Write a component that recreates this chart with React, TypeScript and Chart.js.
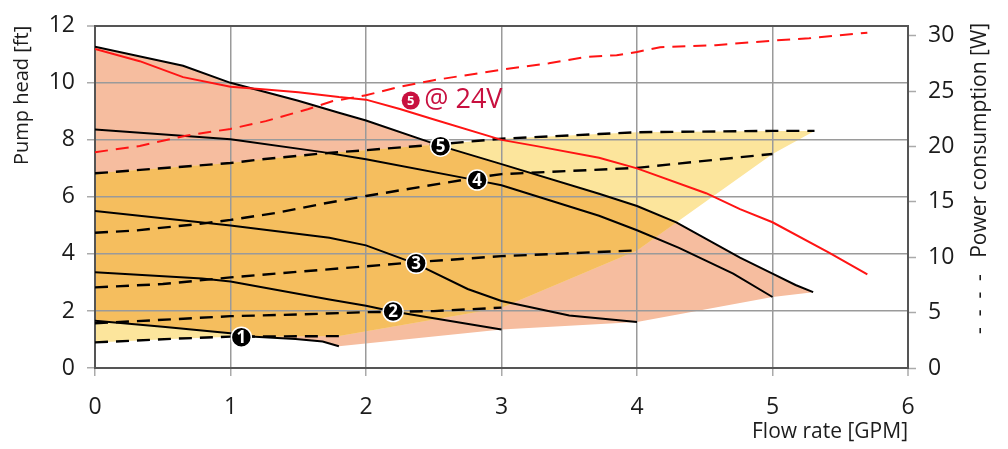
import React, { useEffect, useRef } from "react";
import { Chart, registerables } from "chart.js";

Chart.register(...registerables);

const FONT = "'Open Sans', 'Noto Sans', sans-serif";
const INK = "#1c1c1c";
const RED = "#ff1414";
const CRIMSON = "#c8103f";
const SALMON = "#f6bd9f";
const YELLOW = "#fce59c";
const ORANGE = "#f5be5e";

// Axis setup
const flowMax = 6;
const headMax = 12;
const powerMax = 30.9;

// Pump head curves [ft] per speed setting
const head1Flow = [0, 0.5, 1.0, 1.08, 1.48, 1.68, 1.8];
const head1Ft = [1.66, 1.45, 1.22, 1.12, 1.02, 0.93, 0.76];
const head2Flow = [0, 0.79, 1.0, 1.73, 2.0, 2.2, 3.0];
const head2Ft = [3.36, 3.14, 3.03, 2.4, 2.18, 1.98, 1.35];
const head3Flow = [0, 1.0, 1.73, 2.0, 2.37, 2.75, 3.0, 3.5, 4.0];
const head3Ft = [5.51, 5.0, 4.57, 4.3, 3.65, 2.77, 2.35, 1.84, 1.61];
const head4Flow = [0, 1.0, 1.68, 2.0, 2.82, 3.0, 3.72, 4.0, 4.31, 4.71, 5.0];
const head4Ft = [8.36, 8.02, 7.57, 7.32, 6.58, 6.41, 5.34, 4.83, 4.21, 3.31, 2.49];
const head5Flow = [0, 0.65, 1.0, 1.5, 1.8, 2.0, 2.55, 3.0, 3.72, 4.0, 4.29, 4.76, 5.0, 5.17, 5.3];
const head5Ft = [11.27, 10.6, 10.0, 9.37, 8.95, 8.68, 7.79, 7.15, 6.11, 5.68, 5.11, 3.87, 3.31, 2.91, 2.66];

// Power consumption curves [W] per speed setting
const power1Flow = [0, 0.6, 1.0, 1.8];
const power1W = [2.31, 2.65, 2.83, 2.88];
const power2Flow = [0, 0.45, 1.0, 1.5, 2.0, 2.5, 3.0];
const power2W = [4.04, 4.32, 4.68, 4.83, 5.04, 5.14, 5.45];
const power3Flow = [0, 0.5, 1.0, 1.5, 2.0, 2.37, 3.0, 3.5, 4.0];
const power3W = [7.28, 7.58, 8.18, 8.69, 9.18, 9.56, 10.1, 10.36, 10.62];
const power4Flow = [0, 0.3, 0.77, 1.0, 1.34, 1.68, 2.0, 2.82, 3.0, 3.5, 4.0, 4.46, 5.0];
const power4W = [12.21, 12.42, 13.01, 13.37, 14.01, 14.83, 15.53, 17.2, 17.51, 17.79, 18.07, 18.66, 19.33];
const power5Flow = [0, 1.0, 1.19, 1.68, 2.0, 2.55, 3.0, 3.72, 4.0, 5.0, 5.31];
const power5W = [17.58, 18.51, 18.79, 19.38, 19.67, 20.21, 20.7, 21.13, 21.29, 21.41, 21.41];

// Speed 5 @ 24V
const head24Flow = [0, 0.33, 0.65, 1.0, 1.26, 1.5, 1.8, 2.0, 2.25, 2.49, 3.0, 3.26, 3.72, 4.0, 4.51, 4.76, 5.0, 5.42, 5.7];
const head24Ft = [11.19, 10.76, 10.2, 9.86, 9.77, 9.67, 9.5, 9.41, 9.08, 8.73, 8.0, 7.78, 7.37, 7.0, 6.13, 5.57, 5.11, 4.04, 3.28];
const power24Flow = [0, 0.33, 0.67, 1.0, 1.26, 1.57, 1.75, 2.0, 2.25, 2.49, 3.0, 3.35, 3.63, 3.85, 4.0, 4.17, 4.58, 5.0, 5.27, 5.7];
const power24W = [19.49, 20.05, 20.98, 21.59, 22.29, 23.37, 24.09, 24.63, 25.4, 25.97, 26.94, 27.51, 28.1, 28.25, 28.54, 28.97, 29.15, 29.56, 29.77, 30.28];

// Speed markers
const markerFlow = [1.08, 2.2, 2.37, 2.82, 2.55];
const markerFt = [1.08, 1.98, 3.67, 6.59, 7.78];
const markerText = ["1", "2", "3", "4", "5"];

// 24V note
const noteBadge = "5";
const noteText = "@ 24V";
const noteFlow = 2.33;
const noteFt = 9.38;
const noteTextFlow = 2.43;

// Titles
const xTitle = "Flow rate [GPM]";
const yTitle = "Pump head [ft]";
const y1Title = "-  -  -  -   Power consumption [W]";

const pts = (xs: number[], ys: number[]) => xs.map((x, i) => ({ x, y: ys[i] }));
const last = (xs: number[], ys: number[]) => ({ x: xs[xs.length - 1], y: ys[ys.length - 1] });

const headSets = [
  [head1Flow, head1Ft],
  [head2Flow, head2Ft],
  [head3Flow, head3Ft],
  [head4Flow, head4Ft],
  [head5Flow, head5Ft],
];
const powerSets = [
  [power1Flow, power1W],
  [power2Flow, power2W],
  [power3Flow, power3W],
  [power4Flow, power4W],
  [power5Flow, power5W],
];

// Envelope polygons (data units)
const salmonPoly = () => {
  const top = pts(head5Flow, head5Ft);
  const ends = [3, 2, 1].map((i) => last(headSets[i][0], headSets[i][1]));
  const bottom = pts(head1Flow, head1Ft).reverse();
  return [...top, ...ends, ...bottom];
};
const yellowPoly = () => {
  const top = pts(power5Flow, power5W);
  const ends = [3, 2, 1].map((i) => last(powerSets[i][0], powerSets[i][1]));
  const bottom = pts(power1Flow, power1W).reverse();
  return [...top, ...ends, ...bottom];
};

const envelopePlugin = {
  id: "envelopes",
  beforeDraw(chart: any) {
    const { ctx, scales } = chart;
    const sx = scales.x, sy = scales.y, sy1 = scales.y1;
    const path = (poly: { x: number; y: number }[], ys: any) => {
      ctx.beginPath();
      poly.forEach((p, i) => {
        const px = sx.getPixelForValue(p.x);
        const py = ys.getPixelForValue(p.y);
        if (i === 0) ctx.moveTo(px, py);
        else ctx.lineTo(px, py);
      });
      ctx.closePath();
    };
    const sal = salmonPoly();
    const yel = yellowPoly();
    ctx.save();
    path(sal, sy);
    ctx.fillStyle = SALMON;
    ctx.fill();
    path(yel, sy1);
    ctx.fillStyle = YELLOW;
    ctx.fill();
    path(yel, sy1);
    ctx.clip();
    path(sal, sy);
    ctx.fillStyle = ORANGE;
    ctx.fill();
    ctx.restore();
  },
};

const labelPlugin = {
  id: "labels",
  afterDatasetsDraw(chart: any) {
    const { ctx, scales } = chart;
    const meta = chart.getDatasetMeta(0);
    ctx.save();
    ctx.fillStyle = "#ffffff";
    ctx.font = `bold 17px ${FONT}`;
    ctx.textAlign = "center";
    ctx.textBaseline = "middle";
    meta.data.forEach((el: any, i: number) => {
      ctx.fillText(markerText[i], el.x, el.y + 1);
    });
    // 24V note
    const cx = scales.x.getPixelForValue(noteFlow);
    const cy = scales.y.getPixelForValue(noteFt);
    ctx.beginPath();
    ctx.arc(cx, cy, 9, 0, Math.PI * 2);
    ctx.fillStyle = CRIMSON;
    ctx.fill();
    ctx.fillStyle = "#ffffff";
    ctx.font = `bold 13px ${FONT}`;
    ctx.fillText(noteBadge, cx, cy + 1);
    ctx.font = `27px ${FONT}`;
    ctx.textAlign = "left";
    ctx.fillStyle = CRIMSON;
    ctx.fillText(noteText, scales.x.getPixelForValue(noteTextFlow), cy);
    ctx.restore();
  },
  afterDraw(chart: any) {
    const { ctx, scales } = chart;
    const s = scales.y1;
    ctx.save();
    ctx.translate(s.right - 28, s.top - 3);
    ctx.rotate(-Math.PI / 2);
    ctx.font = `21px ${FONT}`;
    ctx.fillStyle = INK;
    ctx.textAlign = "right";
    ctx.textBaseline = "middle";
    ctx.fillText(y1Title, 0, 0);
    ctx.restore();
  },
};

export default function App() {
  const ref = useRef<HTMLCanvasElement | null>(null);
  useEffect(() => {
    if (!ref.current) return;
    const line = (xs: number[], ys: number[], axis: string, color: string, dash: number[], width: number, order: number) => ({
      type: "scatter",
      data: pts(xs, ys),
      yAxisID: axis,
      showLine: true,
      borderColor: color,
      backgroundColor: color,
      borderWidth: width,
      borderDash: dash,
      pointRadius: 0,
      tension: 0,
      fill: false,
      order,
    });
    const datasets: any[] = [
      {
        type: "scatter",
        data: pts(markerFlow, markerFt),
        yAxisID: "y",
        pointRadius: 10,
        pointHoverRadius: 10,
        pointBackgroundColor: "#000",
        pointBorderColor: "#fff",
        pointBorderWidth: 1.5,
        showLine: false,
        order: 0,
      },
      line(head24Flow, head24Ft, "y", RED, [], 2, 1),
      line(power24Flow, power24W, "y1", RED, [13, 8], 2, 1),
      ...headSets.map(([xs, ys]) => line(xs, ys, "y", "#000", [], 2, 2)),
      ...powerSets.map(([xs, ys]) => line(xs, ys, "y1", "#000", [13, 8], 2.4, 2)),
    ];
    const tickFont = { family: FONT, size: 23 };
    const chart = new Chart(ref.current, {
      type: "scatter",
      data: { datasets },
      plugins: [envelopePlugin, labelPlugin],
      options: {
        animation: false,
        responsive: false,
        devicePixelRatio: 1,
        layout: { padding: { top: 13, left: 0, right: 0, bottom: 0 } },
        plugins: { legend: { display: false }, tooltip: { enabled: false } },
        scales: {
          x: {
            type: "linear",
            min: 0,
            max: flowMax,
            afterFit: (s: any) => {
              s.height = 81;
            },
            ticks: { stepSize: 1, font: tickFont, color: INK, padding: 18, maxRotation: 0 },
            grid: {
              color: (c: any) => (c.tick && c.tick.value === flowMax ? "#555" : "#9a9a9a"),
              lineWidth: (c: any) => (c.tick && c.tick.value === flowMax ? 2 : 1.5),
              tickColor: "#aaa",
              tickLength: 8,
              tickWidth: 1.5,
            },
            border: { color: "#555", width: 2 },
            title: {
              display: true,
              text: xTitle,
              align: "end",
              color: INK,
              font: { family: FONT, size: 21 },
              padding: { top: 0, bottom: 4 },
            },
          },
          y: {
            type: "linear",
            position: "left",
            min: 0,
            max: headMax,
            afterFit: (s: any) => {
              s.width = 95;
            },
            ticks: { stepSize: 2, font: tickFont, color: INK, padding: 12 },
            grid: {
              color: (c: any) => (c.tick && c.tick.value === headMax ? "#555" : "#9a9a9a"),
              lineWidth: (c: any) => (c.tick && c.tick.value === headMax ? 2 : 1.5),
              tickColor: "#aaa",
              tickLength: 8,
              tickWidth: 1.5,
            },
            border: { color: "#555", width: 2 },
            title: {
              display: true,
              text: yTitle,
              align: "end",
              color: INK,
              font: { family: FONT, size: 20 },
              padding: { top: 10, bottom: 0 },
            },
          },
          y1: {
            type: "linear",
            position: "right",
            min: 0,
            max: powerMax,
            afterFit: (s: any) => {
              s.width = 100;
            },
            ticks: { stepSize: 5, font: tickFont, color: INK, padding: 12, includeBounds: false },
            grid: { drawOnChartArea: false, tickColor: "#aaa", tickLength: 8, tickWidth: 1.5 },
            border: { color: "#555", width: 2 },
            title: { display: false },
          },
        },
      } as any,
    } as any);
    return () => chart.destroy();
  }, []);
  return (
    <div style={{ position: "absolute", left: 0, top: 0, width: 1008, height: 449, background: "#fff" }}>
      <canvas ref={ref} width={1008} height={449} style={{ display: "block", width: 1008, height: 449 }} />
    </div>
  );
}
